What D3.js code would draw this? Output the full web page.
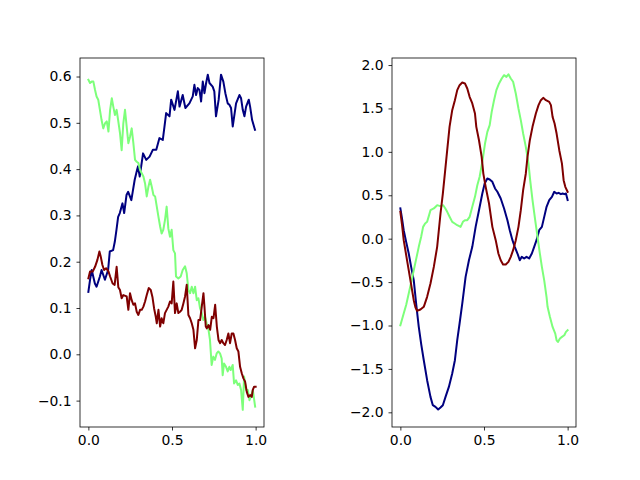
<!DOCTYPE html>
<html>
<head>
<meta charset="utf-8">
<script src="https://cdn.jsdelivr.net/npm/d3@7"></script>
<style>
  html, body { margin: 0; padding: 0; background: #fff; }
  svg { display: block; }
</style>
</head>
<body>
<script>
// Two side-by-side panels, three jet-coloured series each.

const W = 640, H = 480;
const TOP = 58, BOTTOM = 427;

// left panel: noisy walks, [x, y]
const leftNavy = [
  [0.000,0.135],[0.010,0.161],[0.020,0.182],[0.039,0.153],[0.049,0.146],[0.069,0.168],[0.079,0.182],
  [0.099,0.161],[0.118,0.182],[0.128,0.222],[0.148,0.225],[0.158,0.243],[0.168,0.269],[0.178,0.297],
  [0.188,0.305],[0.204,0.326],[0.214,0.305],[0.228,0.344],[0.238,0.351],[0.257,0.333],[0.267,0.355],
  [0.277,0.377],[0.291,0.398],[0.297,0.406],[0.307,0.384],[0.327,0.434],[0.346,0.420],[0.366,0.427],
  [0.386,0.442],[0.406,0.442],[0.425,0.467],[0.445,0.463],[0.455,0.492],[0.465,0.521],[0.485,0.514],
  [0.495,0.550],[0.515,0.528],[0.535,0.568],[0.545,0.535],[0.564,0.560],[0.580,0.532],[0.604,0.542],
  [0.624,0.557],[0.634,0.582],[0.644,0.560],[0.654,0.575],[0.664,0.571],[0.674,0.546],[0.684,0.589],
  [0.694,0.564],[0.704,0.586],[0.714,0.604],[0.724,0.586],[0.743,0.578],[0.753,0.568],[0.763,0.514],
  [0.779,0.550],[0.793,0.604],[0.807,0.589],[0.819,0.564],[0.833,0.542],[0.843,0.539],[0.853,0.532],
  [0.863,0.492],[0.883,0.542],[0.903,0.560],[0.913,0.553],[0.923,0.528],[0.933,0.514],[0.943,0.535],
  [0.959,0.550],[0.967,0.535],[0.979,0.506],[0.996,0.485],
];
const leftGreen = [
  [0.000,0.593],[0.010,0.586],[0.020,0.589],[0.030,0.589],[0.040,0.571],[0.049,0.557],[0.059,0.550],
  [0.069,0.528],[0.079,0.506],[0.089,0.488],[0.100,0.499],[0.110,0.503],[0.120,0.481],[0.130,0.528],
  [0.140,0.553],[0.149,0.535],[0.159,0.517],[0.169,0.528],[0.179,0.503],[0.189,0.478],[0.199,0.441],
  [0.209,0.499],[0.219,0.528],[0.229,0.492],[0.239,0.456],[0.249,0.470],[0.259,0.488],[0.269,0.456],
  [0.279,0.420],[0.289,0.416],[0.299,0.413],[0.309,0.398],[0.319,0.391],[0.329,0.384],[0.339,0.369],
  [0.349,0.341],[0.359,0.362],[0.369,0.377],[0.379,0.362],[0.389,0.344],[0.399,0.341],[0.409,0.319],
  [0.419,0.297],[0.429,0.276],[0.438,0.261],[0.448,0.269],[0.458,0.290],[0.468,0.319],[0.478,0.272],
  [0.488,0.254],[0.498,0.269],[0.508,0.225],[0.518,0.218],[0.524,0.168],[0.538,0.164],[0.552,0.168],
  [0.564,0.182],[0.578,0.190],[0.588,0.175],[0.598,0.139],[0.608,0.132],[0.618,0.146],[0.628,0.132],
  [0.638,0.146],[0.648,0.117],[0.658,0.121],[0.668,0.099],[0.678,0.089],[0.687,0.074],[0.697,0.081],
  [0.707,0.067],[0.717,0.056],[0.727,0.031],[0.737,-0.023],[0.747,-0.005],[0.757,-0.012],[0.767,0.002],
  [0.777,0.006],[0.787,0.002],[0.797,-0.009],[0.803,-0.045],[0.811,-0.020],[0.823,-0.027],[0.833,-0.037],
  [0.843,-0.027],[0.851,-0.034],[0.863,-0.023],[0.871,-0.063],[0.883,-0.056],[0.893,-0.066],[0.903,-0.063],
  [0.913,-0.077],[0.923,-0.120],[0.931,-0.048],[0.943,-0.077],[0.953,-0.077],[0.963,-0.099],[0.971,-0.092],
  [0.983,-0.077],[0.997,-0.113],
];
const leftRed = [
  [0.000,0.164],[0.010,0.179],[0.026,0.179],[0.040,0.189],[0.054,0.204],[0.066,0.222],[0.074,0.211],
  [0.084,0.193],[0.094,0.182],[0.106,0.186],[0.120,0.179],[0.130,0.168],[0.145,0.153],[0.157,0.150],
  [0.169,0.189],[0.179,0.145],[0.189,0.139],[0.199,0.121],[0.209,0.128],[0.229,0.125],[0.239,0.096],
  [0.249,0.132],[0.259,0.117],[0.269,0.107],[0.279,0.110],[0.289,0.092],[0.299,0.085],[0.309,0.096],
  [0.319,0.096],[0.329,0.103],[0.339,0.114],[0.349,0.128],[0.361,0.143],[0.373,0.139],[0.383,0.124],
  [0.393,0.099],[0.403,0.081],[0.409,0.067],[0.419,0.096],[0.429,0.060],[0.438,0.078],[0.448,0.067],
  [0.458,0.089],[0.468,0.096],[0.478,0.103],[0.488,0.114],[0.498,0.110],[0.508,0.157],[0.518,0.089],
  [0.528,0.110],[0.538,0.089],[0.548,0.092],[0.558,0.096],[0.568,0.110],[0.578,0.125],[0.588,0.150],
  [0.598,0.085],[0.608,0.078],[0.618,0.067],[0.628,0.053],[0.638,0.013],[0.648,0.031],[0.658,0.074],
  [0.668,0.074],[0.678,0.103],[0.688,0.132],[0.694,0.103],[0.702,0.060],[0.708,0.056],[0.718,0.063],
  [0.728,0.053],[0.738,0.081],[0.748,0.078],[0.758,0.107],[0.768,0.060],[0.778,0.031],[0.788,0.024],
  [0.797,0.031],[0.807,0.024],[0.817,0.020],[0.827,0.031],[0.837,0.045],[0.847,0.024],[0.857,0.045],
  [0.867,0.045],[0.877,0.031],[0.887,0.013],[0.897,0.006],[0.907,-0.027],[0.917,-0.041],[0.927,-0.052],
  [0.937,-0.059],[0.947,-0.081],[0.957,-0.092],[0.967,-0.088],[0.977,-0.092],[0.983,-0.077],[0.991,-0.070],
  [1.000,-0.070],
];

// right panel: smooth waves, [x, y]
const rightNavy = [
  [0.000,0.350],[0.010,0.230],[0.020,0.098],[0.035,-0.040],[0.050,-0.171],[0.065,-0.330],[0.080,-0.478],
  [0.095,-0.760],[0.110,-1.016],[0.125,-1.220],[0.140,-1.400],[0.160,-1.630],[0.180,-1.822],[0.194,-1.918],
  [0.210,-1.937],[0.226,-1.968],[0.240,-1.945],[0.254,-1.918],[0.270,-1.822],[0.290,-1.707],[0.310,-1.553],
  [0.326,-1.400],[0.340,-1.169],[0.354,-0.977],[0.370,-0.747],[0.390,-0.440],[0.410,-0.248],[0.430,-0.094],
  [0.450,0.136],[0.470,0.328],[0.490,0.520],[0.504,0.636],[0.520,0.693],[0.534,0.682],[0.550,0.655],
  [0.566,0.578],[0.580,0.540],[0.600,0.463],[0.620,0.348],[0.640,0.213],[0.654,0.098],[0.670,-0.017],
  [0.684,-0.094],[0.700,-0.171],[0.714,-0.248],[0.726,-0.209],[0.740,-0.228],[0.754,-0.209],[0.770,-0.228],
  [0.786,-0.171],[0.800,-0.094],[0.814,-0.017],[0.830,0.098],[0.846,0.136],[0.860,0.251],[0.874,0.367],
  [0.890,0.444],[0.906,0.482],[0.920,0.540],[0.934,0.520],[0.946,0.528],[0.960,0.513],[0.970,0.520],
  [0.980,0.513],[0.990,0.520],[1.000,0.444],
];
const rightGreen = [
  [0.000,-0.997],[0.020,-0.862],[0.035,-0.760],[0.050,-0.632],[0.065,-0.500],[0.080,-0.363],[0.095,-0.230],
  [0.110,-0.094],[0.124,0.020],[0.136,0.136],[0.148,0.175],[0.160,0.194],[0.170,0.260],[0.180,0.328],
  [0.200,0.348],[0.220,0.386],[0.238,0.375],[0.256,0.386],[0.268,0.350],[0.280,0.309],[0.295,0.250],
  [0.310,0.194],[0.325,0.175],[0.340,0.155],[0.360,0.136],[0.374,0.194],[0.386,0.213],[0.400,0.213],
  [0.414,0.251],[0.430,0.367],[0.446,0.482],[0.460,0.616],[0.474,0.713],[0.490,0.886],[0.506,1.096],
  [0.520,1.230],[0.534,1.307],[0.546,1.461],[0.560,1.595],[0.574,1.711],[0.590,1.788],[0.606,1.845],
  [0.620,1.883],[0.634,1.864],[0.646,1.894],[0.660,1.845],[0.674,1.807],[0.690,1.672],[0.706,1.499],
  [0.720,1.365],[0.734,1.211],[0.750,1.057],[0.766,0.865],[0.776,0.674],[0.790,0.444],[0.806,0.213],
  [0.820,0.021],[0.834,-0.171],[0.846,-0.324],[0.860,-0.480],[0.874,-0.672],[0.880,-0.785],[0.894,-0.900],
  [0.910,-1.016],[0.926,-1.093],[0.934,-1.170],[0.942,-1.189],[0.954,-1.150],[0.966,-1.131],[0.980,-1.112],
  [0.990,-1.073],[1.000,-1.054],
];
const rightRed = [
  [0.000,0.309],[0.010,0.160],[0.020,-0.017],[0.040,-0.250],[0.060,-0.478],[0.080,-0.708],[0.090,-0.790],
  [0.100,-0.832],[0.120,-0.816],[0.140,-0.785],[0.160,-0.670],[0.180,-0.516],[0.200,-0.325],[0.220,-0.094],
  [0.240,0.290],[0.254,0.520],[0.266,0.750],[0.280,1.019],[0.294,1.288],[0.310,1.480],[0.326,1.595],
  [0.340,1.711],[0.354,1.768],[0.370,1.799],[0.386,1.788],[0.400,1.730],[0.414,1.634],[0.430,1.557],
  [0.446,1.442],[0.454,1.288],[0.470,1.134],[0.486,0.942],[0.496,0.750],[0.510,0.597],[0.530,0.405],
  [0.550,0.136],[0.570,-0.017],[0.586,-0.171],[0.600,-0.248],[0.614,-0.298],[0.630,-0.298],[0.646,-0.267],
  [0.660,-0.209],[0.674,-0.132],[0.690,-0.017],[0.706,0.136],[0.720,0.328],[0.734,0.559],[0.750,0.751],
  [0.760,0.942],[0.774,1.134],[0.790,1.288],[0.810,1.442],[0.826,1.538],[0.840,1.595],[0.854,1.622],
  [0.870,1.595],[0.890,1.576],[0.900,1.538],[0.910,1.403],[0.922,1.327],[0.934,1.211],[0.950,1.019],
  [0.966,0.865],[0.976,0.674],[0.986,0.597],[1.000,0.539],
];

const xTicks = [0, 0.5, 1];
const leftYTicks = [-0.1, 0, 0.1, 0.2, 0.3, 0.4, 0.5, 0.6];
const rightYTicks = [-2, -1.5, -1, -0.5, 0, 0.5, 1, 1.5, 2];

const NAVY = "#00007f", GREEN = "#7dff7a", RED = "#7f0000";

const panels = [
  { left: 80, right: 264, yDomain: [-0.157, 0.640], yTicks: leftYTicks,
    series: [[leftNavy, NAVY], [leftGreen, GREEN], [leftRed, RED]] },
  { left: 392, right: 576, yDomain: [-2.169, 2.081], yTicks: rightYTicks,
    series: [[rightNavy, NAVY], [rightGreen, GREEN], [rightRed, RED]] },
];

const svg = d3.select("body").append("svg").attr("width", W).attr("height", H);
svg.append("rect").attr("width", W).attr("height", H).attr("fill", "#fff");

const FONT = "13.9px 'DejaVu Sans', sans-serif";

for (const p of panels) {
  const x = d3.scaleLinear().domain([-0.05, 1.05]).range([p.left, p.right]);
  const y = d3.scaleLinear().domain(p.yDomain).range([BOTTOM, TOP]);
  const g = svg.append("g");

  const line = d3.line().x((d) => x(d[0])).y((d) => y(d[1]));
  for (const [data, colour] of p.series) {
    g.append("path").datum(data).attr("d", line)
      .attr("fill", "none").attr("stroke", colour)
      .attr("stroke-width", 2).attr("stroke-linejoin", "round").attr("stroke-linecap", "square");
  }

  const styleAxis = (s) => {
    s.select(".domain").remove();
    s.selectAll(".tick line").attr("stroke", "#000").attr("stroke-width", 0.8);
    s.selectAll("text").style("font", FONT).style("fill", "#000");
  };
  g.append("g").attr("transform", `translate(0,${BOTTOM})`)
    .call(d3.axisBottom(x).tickValues(xTicks).tickFormat(d3.format(".1f")).tickSize(3.5).tickPadding(4.9))
    .call(styleAxis);
  g.append("g").attr("transform", `translate(${p.left},0)`)
    .call(d3.axisLeft(y).tickValues(p.yTicks).tickFormat(d3.format(".1f")).tickSize(3.5).tickPadding(4.9))
    .call(styleAxis);

  g.append("rect")
    .attr("x", p.left).attr("y", TOP)
    .attr("width", p.right - p.left).attr("height", BOTTOM - TOP)
    .attr("fill", "none").attr("stroke", "#000").attr("stroke-width", 0.8);
}
</script>
</body>
</html>
